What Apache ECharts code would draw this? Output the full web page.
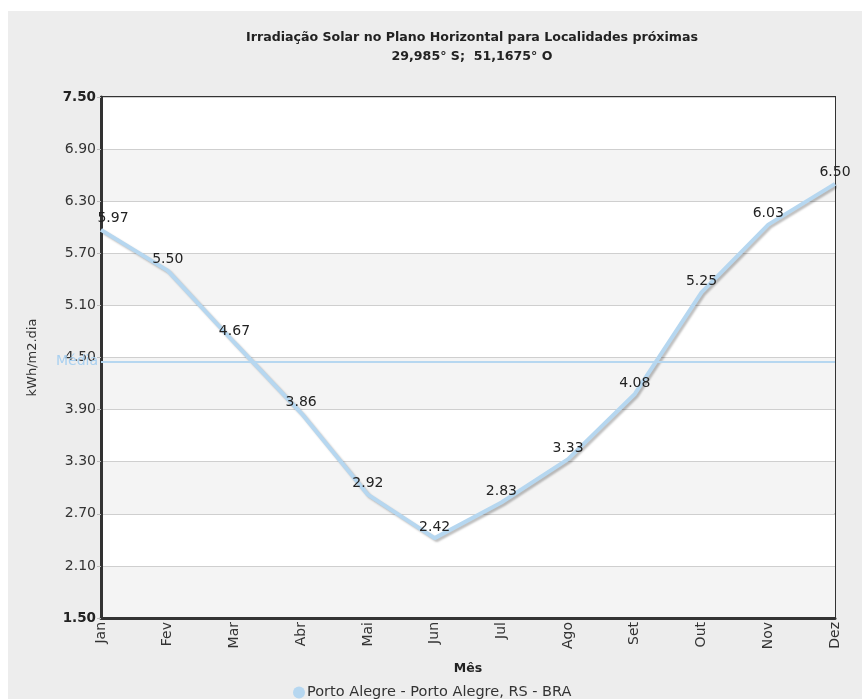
<!DOCTYPE html>
<html><head><meta charset="utf-8">
<script src="https://cdn.jsdelivr.net/npm/echarts@6/dist/echarts.min.js"></script>
<style>html,body{margin:0;padding:0;background:#fff}#c{width:862px;height:699px}</style>
</head><body><div id="c"></div>
<script>
const months = ['Jan','Fev','Mar','Abr','Mai','Jun','Jul','Ago','Set','Out','Nov','Dez'];
const irradiation = [5.97, 5.50, 4.67, 3.86, 2.92, 2.42, 2.83, 3.33, 4.08, 5.25, 6.03, 6.50];
const yTicks = [1.5, 2.1, 2.7, 3.3, 3.9, 4.5, 5.1, 5.7, 6.3, 6.9, 7.5];
const mediaValue = 4.45;
const seriesName = 'Porto Alegre - Porto Alegre, RS - BRA';
const titleText = 'Irradiação Solar no Plano Horizontal para Localidades próximas';
const subText = '29,985° S;  51,1675° O';

const FONT = 'DejaVu Sans';
const seriesData = irradiation.map((v, i) => i === 0 ? {value: v, label: {offset: [12, 0]}} : v);
const chart = echarts.init(document.getElementById('c'));
chart.setOption({
  animation: false,
  textStyle: {fontFamily: FONT},
  graphic: [{type: 'rect', shape: {x: 8, y: 11, width: 900, height: 720}, style: {fill: '#ededed'}, z: -10, silent: true}],
  title: {
    text: titleText, subtext: subText, left: 467, top: 26, textAlign: 'center', itemGap: 6,
    textStyle: {fontFamily: FONT, fontSize: 12.6, fontWeight: 'bold', color: '#222'},
    subtextStyle: {fontFamily: FONT, fontSize: 12.6, fontWeight: 'bold', color: '#222'}
  },
  legend: {
    left: 293, top: 685, padding: 0, icon: 'circle', itemWidth: 12, itemHeight: 12, itemGap: 10,
    textStyle: {fontFamily: FONT, fontSize: 14.5, color: '#333', padding: [0,0,0,-3]},
    data: [seriesName]
  },
  grid: {left: 101, right: 27, top: 97, bottom: 81, show: true, borderColor: '#333', borderWidth: 2, backgroundColor: 'transparent'},
  xAxis: {
    type: 'category', data: months, boundaryGap: false,
    name: 'Mês', nameLocation: 'middle', nameGap: 44,
    nameTextStyle: {fontFamily: FONT, fontSize: 12.5, fontWeight: 'bold', color: '#222'},
    axisLine: {lineStyle: {color: '#333', width: 3}},
    axisTick: {show: false},
    axisLabel: {rotate: 90, fontFamily: FONT, fontSize: 14, color: '#333', margin: 4},
    splitLine: {show: false}
  },
  yAxis: {
    type: 'value', min: 1.5, max: 7.5,
    name: 'kWh/m2.dia', nameLocation: 'middle', nameGap: 62,
    nameTextStyle: {fontFamily: FONT, fontSize: 13, color: '#333'},
    axisLine: {show: true, lineStyle: {color: '#333', width: 3}},
    axisTick: {show: true, length: 4, lineStyle: {color: '#bbb'}, customValues: yTicks},
    axisLabel: {
      customValues: yTicks, fontFamily: FONT, fontSize: 14, color: '#333', margin: 5,
      formatter: v => (v === 1.5 || v === 7.5) ? '{b|' + v.toFixed(2) + '}' : v.toFixed(2),
      rich: {b: {fontFamily: FONT, fontSize: 13.5, fontWeight: 'bold', color: '#222'}}
    },
    splitLine: {show: true, lineStyle: {color: '#cfcfcf', width: 1}},
    splitArea: {show: true, areaStyle: {color: ['#f4f4f4', '#ffffff']}}
  },
  series: [{
    name: seriesName, type: 'line', data: seriesData,
    symbol: 'circle', symbolSize: 0.01, showSymbol: true,
    itemStyle: {color: '#b6d7f0'},
    lineStyle: {color: '#b6d7f0', width: 4, shadowColor: 'rgba(0,0,0,0.25)', shadowOffsetX: 2, shadowOffsetY: 2, shadowBlur: 2},
    label: {show: true, position: 'top', distance: 4, fontFamily: FONT, fontSize: 14, color: '#222', formatter: p => Number(p.value).toFixed(2)},
    markLine: {
      silent: true, symbol: ['none','none'],
      lineStyle: {color: '#b6d7f0', width: 2, type: 'solid'},
      label: {show: true, position: 'start', formatter: 'Média', color: '#a9d0f0', fontFamily: FONT, fontSize: 14, distance: 3},
      data: [{yAxis: mediaValue}]
    }
  }]
});
</script></body></html>
